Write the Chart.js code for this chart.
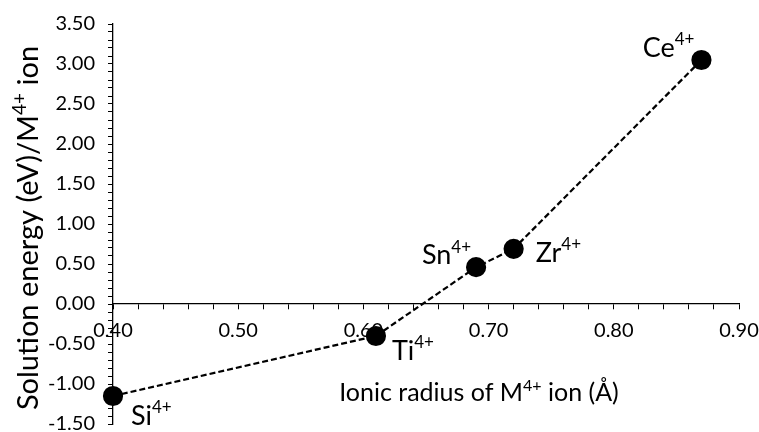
<!DOCTYPE html>
<html>
<head>
<meta charset="utf-8">
<script src="https://cdn.jsdelivr.net/npm/chart.js@4.4.1/dist/chart.umd.min.js"></script>
<style>
  html, body { margin: 0; padding: 0; background: #fff; }
  #wrap { width: 759px; height: 432px; }
</style>
</head>
<body>
<div id="wrap"><canvas id="chart"></canvas></div>
<script>
// Data
const ionNames = ['Si', 'Ti', 'Sn', 'Zr', 'Ce'];
const ionCharge = '4+';
const ionicRadius = [0.40, 0.61, 0.69, 0.72, 0.87];
const solutionEnergy = [-1.15, -0.40, 0.46, 0.69, 3.05];

const xTitle = [['Ionic radius of M', false], ['4+', true], [' ion (Å)', false]];
const yTitle = [['Solution energy (eV)/M', false], ['4+', true], [' ion', false]];

// label placement relative to each point: [dx, dy, align]
const labelOffsets = [
    [18, 20, 'left'],
    [16, 15, 'left'],
    [-5, -12, 'right'],
    [22, 4, 'left'],
    [-7, -12, 'right']
];

const FONT = 'Lato, "Open Sans", sans-serif';

// draw a string with superscript parts
function drawRich(ctx, parts, x, y, size, align) {
    const supSize = Math.round(size * 0.64);
    let total = 0;
    parts.forEach(p => {
        ctx.font = (p[1] ? supSize : size) + 'px ' + FONT;
        total += ctx.measureText(p[0]).width;
    });
    let cx = x;
    if (align === 'center') cx = x - total / 2;
    if (align === 'right') cx = x - total;
    ctx.textAlign = 'left';
    ctx.textBaseline = 'middle';
    parts.forEach(p => {
        ctx.font = (p[1] ? supSize : size) + 'px ' + FONT;
        ctx.fillText(p[0], cx, p[1] ? y - size * 0.3 : y);
        cx += ctx.measureText(p[0]).width;
    });
}

const labelPlugin = {
    id: 'labelPlugin',
    afterDraw(chart) {
        const ctx = chart.ctx;
        const xs = chart.scales.x;
        const ys = chart.scales.y;
        const area = chart.chartArea;
        ctx.save();
        ctx.fillStyle = '#000';

        // point labels
        ionNames.forEach((name, i) => {
            const px = xs.getPixelForValue(ionicRadius[i]);
            const py = ys.getPixelForValue(solutionEnergy[i]);
            const o = labelOffsets[i];
            drawRich(ctx, [[name, false], [ionCharge, true]], px + o[0], py + o[1], 27, o[2]);
        });

        // x axis title
        drawRich(ctx, xTitle, (area.left + area.right) / 2 + 53, area.bottom - 31, 25, 'center');

        // y axis title (rotated)
        ctx.translate(29, (area.top + area.bottom) / 2 + 4);
        ctx.rotate(-Math.PI / 2);
        drawRich(ctx, yTitle, 0, 0, 29, 'center');
        ctx.restore();
    }
};

new Chart(document.getElementById('chart'), {
    type: 'scatter',
    data: {
        datasets: [{
            data: ionicRadius.map((r, i) => ({ x: r, y: solutionEnergy[i] })),
            showLine: true,
            borderColor: '#000',
            borderWidth: 2.2,
            borderDash: [6, 3],
            backgroundColor: '#000',
            pointRadius: 9,
            pointHoverRadius: 9,
            clip: false
        }]
    },
    options: {
        responsive: true,
        maintainAspectRatio: false,
        animation: false,
        layout: {
            autoPadding: false,
            padding: { top: 24, right: 20, bottom: 8, left: 0 }
        },
        plugins: {
            legend: { display: false },
            tooltip: { enabled: false }
        },
        scales: {
            x: {
                type: 'linear',
                position: { y: 0 },
                min: 0.40,
                max: 0.90,
                border: { color: '#000', width: 1.3 },
                grid: {
                    drawOnChartArea: false,
                    drawTicks: true,
                    tickLength: 5,
                    color: '#000'
                },
                ticks: {
                    stepSize: 0.02,
                    autoSkip: false,
                    maxRotation: 0,
                    padding: 10,
                    color: '#000',
                    font: { family: FONT, size: 20 },
                    callback: function(v) {
                        const t = Math.round(v * 100);
                        return t % 10 === 0 ? (t / 100).toFixed(2) : '';
                    }
                },
                afterFit: function(scale) {
                    // axis sits on y = 0, it should not take room at the bottom
                    scale.height = 0;
                    scale.paddingLeft = 0;
                    scale.paddingRight = 0;
                    scale.paddingTop = 0;
                    scale.paddingBottom = 0;
                }
            },
            y: {
                type: 'linear',
                min: -1.5,
                max: 3.5,
                border: { color: '#000', width: 1.3 },
                grid: {
                    drawOnChartArea: false,
                    drawTicks: true,
                    tickLength: 5,
                    color: '#000'
                },
                ticks: {
                    stepSize: 0.1,
                    autoSkip: false,
                    padding: 13,
                    color: '#000',
                    font: { family: FONT, size: 20 },
                    callback: function(v) {
                        const t = Math.round(v * 100);
                        return t % 50 === 0 ? (t / 100).toFixed(2) : '';
                    }
                },
                afterFit: function(scale) {
                    scale.width = 113;
                    scale.paddingTop = 0;
                    scale.paddingBottom = 0;
                }
            }
        }
    },
    plugins: [labelPlugin]
});
</script>
</body>
</html>
